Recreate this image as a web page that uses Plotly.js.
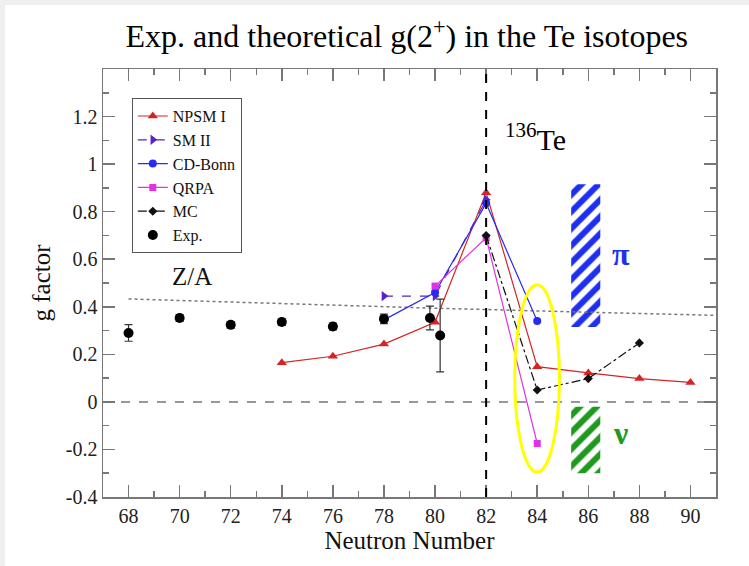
<!DOCTYPE html>
<html>
<head>
<meta charset="utf-8">
<script src="https://cdn.plot.ly/plotly-3.0.1.min.js"></script>
<style>
  html, body { margin: 0; padding: 0; background: #efefef; width: 749px; height: 566px; overflow: hidden; }
  #chart { position: absolute; left: 5px; top: 5px; width: 744px; height: 561px; background: #fff; }
</style>
</head>
<body>
<div id="chart"></div>
<script>
// g(2+) factors of the Te isotopes versus neutron number
const npsmN = [74, 76, 78, 80, 82, 84, 86, 88, 90];
const npsmG = [0.165, 0.192, 0.243, 0.335, 0.88, 0.148, 0.122, 0.098, 0.082];

const sm2N = [78, 80, 82];
const sm2G = [0.445, 0.445, 0.85];

const cdBonnN = [78, 80, 82, 84];
const cdBonnG = [0.345, 0.46, 0.835, 0.34];

const qrpaN = [80, 82, 84];
const qrpaG = [0.487, 0.69, -0.175];

const mcN = [82, 84, 86, 88];
const mcG = [0.70, 0.05, 0.098, 0.248];

const expN = [68, 70, 72, 74, 76, 78, 79.8, 80.2];
const expG = [0.29, 0.353, 0.324, 0.336, 0.317, 0.349, 0.353, 0.279];
const expErr = [0.035, 0.014, 0.014, 0.014, 0.014, 0.02, 0.05, 0.153];

// Z/A reference line
const zaN = [68, 74, 80, 86, 91];
const zaG = [0.433, 0.413, 0.394, 0.377, 0.364];

// proton (pi) and neutron (nu) contribution bands
const bandN = [85.9];
const piBand = [0.315, 0.915];
const nuBand = [-0.3, -0.02];

const xTicks = [68, 70, 72, 74, 76, 78, 80, 82, 84, 86, 88, 90];
const yTicks = [-0.4, -0.2, 0, 0.2, 0.4, 0.6, 0.8, 1, 1.2];
const yTickText = ['-0.4', '-0.2', '0', '0.2', '0.4', '0.6', '0.8', '1', '1.2'];

const serif = 'Liberation Serif, Times New Roman, serif';

const traces = [
  {
    type: 'bar', x: bandN, base: [piBand[0]], y: [piBand[1] - piBand[0]], width: 1.14,
    marker: { color: '#ffffff', line: { width: 0 },
      pattern: { shape: '/', fgcolor: '#1f2ff0', bgcolor: '#ffffff', size: 12, solidity: 0.5 } },
    showlegend: false, hoverinfo: 'skip'
  },
  {
    type: 'bar', x: bandN, base: [nuBand[0]], y: [nuBand[1] - nuBand[0]], width: 1.14,
    marker: { color: '#ffffff', line: { width: 0 },
      pattern: { shape: '/', fgcolor: '#1e9a1e', bgcolor: '#ffffff', size: 12, solidity: 0.5 } },
    showlegend: false, hoverinfo: 'skip'
  },
  {
    type: 'scatter', mode: 'lines', x: zaN, y: zaG, showlegend: false,
    line: { color: '#777777', width: 1.5, dash: 'dot' }
  },
  {
    type: 'scatter', mode: 'lines+markers', name: 'NPSM I', x: npsmN, y: npsmG,
    line: { color: '#d42424', width: 1.2 },
    marker: { symbol: 'triangle-up', size: 9, color: '#d42424' }
  },
  {
    type: 'scatter', mode: 'lines+markers', name: 'SM II', x: sm2N, y: sm2G,
    line: { color: '#5a22c8', width: 1.2, dash: 'dash' },
    marker: { symbol: 'triangle-right', size: 9, color: '#5a22c8' }
  },
  {
    type: 'scatter', mode: 'lines+markers', name: 'CD-Bonn', x: cdBonnN, y: cdBonnG,
    line: { color: '#2a2af2', width: 1.2 },
    marker: { symbol: 'circle', size: 8, color: '#2a2af2' }
  },
  {
    type: 'scatter', mode: 'lines+markers', name: 'QRPA', x: qrpaN, y: qrpaG,
    line: { color: '#e030e8', width: 1.2 },
    marker: { symbol: 'square', size: 7, color: '#e030e8' }
  },
  {
    type: 'scatter', mode: 'lines+markers', name: 'MC', x: mcN, y: mcG,
    line: { color: '#111111', width: 1.2, dash: 'dashdot' },
    marker: { symbol: 'diamond', size: 7, color: '#111111' }
  },
  {
    type: 'scatter', mode: 'markers', name: 'Exp.', x: expN, y: expG,
    error_y: { type: 'data', array: expErr, visible: true, color: '#333333', thickness: 1.2, width: 4 },
    marker: { symbol: 'circle', size: 10, color: '#000000' }
  }
];

const layout = {
  width: 744, height: 561,
  margin: { l: 98, r: 33, t: 64, b: 69 },
  paper_bgcolor: '#ffffff', plot_bgcolor: '#ffffff',
  barmode: 'overlay',
  hovermode: false,
  font: { family: serif, color: '#111111' },
  title: {
    text: 'Exp. and theoretical g(2<sup>+</sup>) in the Te isotopes',
    font: { family: serif, size: 32, color: '#000000' },
    xref: 'container', x: 0.54, xanchor: 'center',
    yref: 'container', y: 0.945, yanchor: 'middle'
  },
  xaxis: {
    range: [67, 91],
    tickvals: xTicks, ticktext: xTicks.map(String),
    ticks: 'inside', ticklen: 12, tickwidth: 1.5, tickcolor: '#777777',
    minor: { dtick: 1, tick0: 67, ticks: 'inside', ticklen: 6, tickwidth: 1.5, tickcolor: '#777777' },
    showline: true, linecolor: '#777777', linewidth: 1.5, mirror: 'ticks',
    showgrid: false, zeroline: false,
    tickfont: { family: serif, size: 20, color: '#222222' },
    title: { text: 'Neutron Number', font: { family: serif, size: 25, color: '#111111' }, standoff: 4 }
  },
  yaxis: {
    range: [-0.4, 1.4],
    tickvals: yTicks, ticktext: yTickText,
    ticks: 'inside', ticklen: 12, tickwidth: 1.5, tickcolor: '#777777',
    minor: { dtick: 0.1, tick0: 0, ticks: 'inside', ticklen: 6, tickwidth: 1.5, tickcolor: '#777777' },
    showline: true, linecolor: '#777777', linewidth: 1.5, mirror: 'ticks',
    showgrid: false, zeroline: false,
    tickfont: { family: serif, size: 20, color: '#222222' },
    title: { text: 'g factor', font: { family: serif, size: 25, color: '#111111' }, standoff: 8 }
  },
  legend: {
    x: 0.047, y: 0.932, xanchor: 'left', yanchor: 'top',
    bgcolor: '#ffffff', bordercolor: '#555555', borderwidth: 1,
    font: { family: serif, size: 16, color: '#111111' },
    tracegroupgap: 0, itemwidth: 30
  },
  shapes: [
    // zero line
    { type: 'line', xref: 'paper', x0: 0, x1: 1, yref: 'y', y0: 0, y1: 0,
      line: { color: '#777777', width: 1.5, dash: 'dash' } },
    // N = 82 shell closure
    { type: 'line', xref: 'x', x0: 82, x1: 82, yref: 'paper', y0: 0, y1: 1,
      line: { color: '#000000', width: 2, dash: 'dash' } },
    // highlight around N = 84
    { type: 'circle', xref: 'x', yref: 'y', x0: 83.12, x1: 84.87, y0: -0.295, y1: 0.493,
      line: { color: '#ffff00', width: 3 } }
  ],
  annotations: [
    { x: 70.5, y: 0.527, xref: 'x', yref: 'y', text: 'Z/A', showarrow: false,
      font: { family: serif, size: 25, color: '#111111' } },
    { x: 83.95, y: 1.116, xref: 'x', yref: 'y', text: '<sup>136</sup>Te', showarrow: false,
      font: { family: serif, size: 30, color: '#000000' } },
    { x: 87.27, y: 0.62, xref: 'x', yref: 'y', text: '<b>π</b>', showarrow: false,
      font: { family: serif, size: 32, color: '#1f2ff0' } },
    { x: 87.27, y: -0.13, xref: 'x', yref: 'y', text: '<b>ν</b>', showarrow: false,
      font: { family: serif, size: 32, color: '#1e9a1e' } }
  ]
};

Plotly.newPlot('chart', traces, layout, { staticPlot: true, displayModeBar: false });
</script>
</body>
</html>
